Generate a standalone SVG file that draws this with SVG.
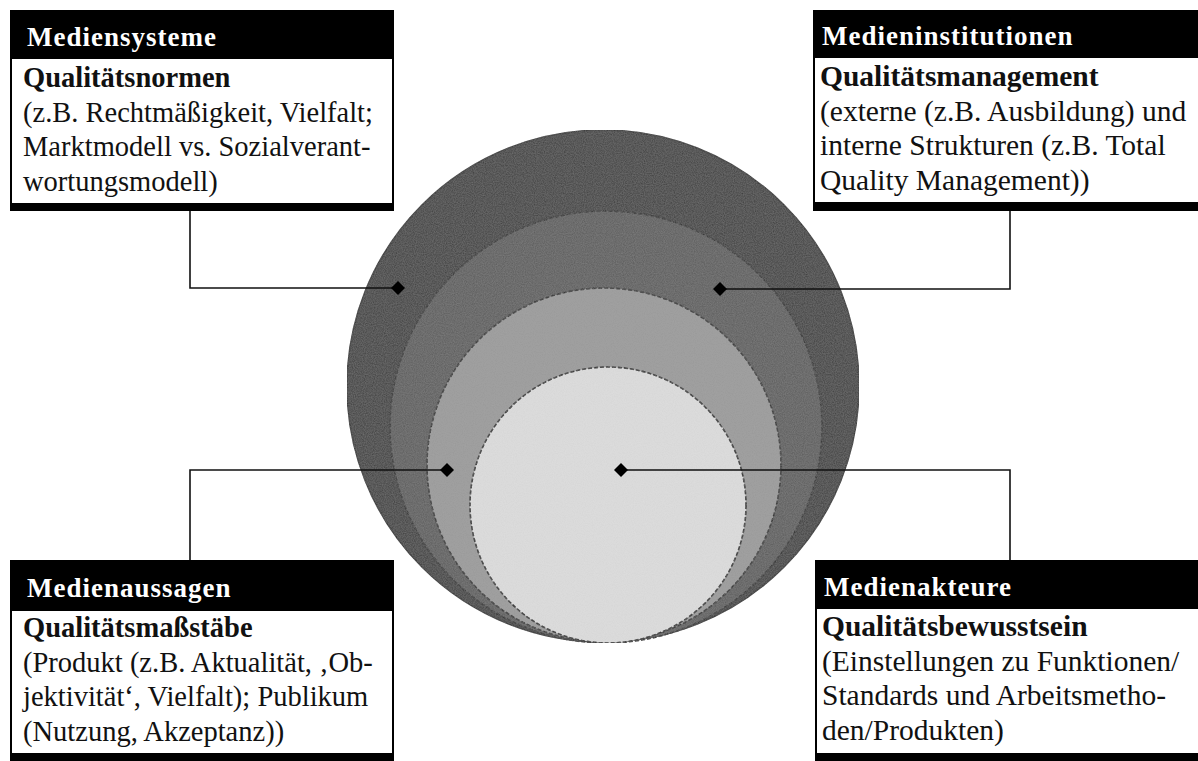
<svg xmlns="http://www.w3.org/2000/svg" width="1198" height="761" viewBox="0 0 1198 761">
<style>
.hdr{fill:#000}
.body{fill:#fff;stroke:#000;stroke-width:2}
.bar{fill:#000}
.ht{font-family:"Liberation Serif",serif;font-weight:bold;font-size:27px;letter-spacing:1px;fill:#fff}
.bt{font-family:"Liberation Serif",serif;font-weight:bold;font-size:28.5px;fill:#111}
.tx{font-family:"Liberation Serif",serif;font-size:28.5px;fill:#111}
.r .bt,.r .tx{font-size:29.5px}
.conn{fill:none;stroke:#111;stroke-width:1.6}
.dot{fill:#000}
.ring{stroke:#2a2a2a;stroke-width:1.6;stroke-dasharray:4 2}
</style>
<defs>
<filter id="grain" x="0" y="0" width="100%" height="100%">
<feTurbulence type="fractalNoise" baseFrequency="0.9" numOctaves="2" seed="3" result="n"/>
<feColorMatrix in="n" type="matrix" values="0 0 0 0 0.5  0 0 0 0 0.5  0 0 0 0 0.5  0 0 0 0.25 0" result="g"/>
<feComposite in="g" in2="SourceGraphic" operator="in" result="gc"/>
<feMerge><feMergeNode in="SourceGraphic"/><feMergeNode in="gc"/></feMerge>
</filter>
</defs>
<rect width="1198" height="761" fill="#fff"/>

<g id="circles" filter="url(#grain)">
<circle cx="603" cy="386" r="256" fill="#3c3c3c" stroke="#262626" stroke-width="1.5"/>
<circle class="ring" cx="606" cy="427" r="216" fill="#5c5c5c"/>
<circle class="ring" cx="604" cy="465" r="177" fill="#9a9a9a"/>
<circle class="ring" cx="608" cy="505" r="138" fill="#dedede"/>
</g>

<g id="connectors">
<polyline class="conn" points="190,211 190,288 398,288"/>
<polyline class="conn" points="1010,211 1010,289 720,289"/>
<polyline class="conn" points="447,470 190,470 190,560"/>
<polyline class="conn" points="621,470 1010,470 1010,560"/>
<polygon class="dot" points="398,281 405,288 398,295 391,288"/>
<polygon class="dot" points="720,282 727,289 720,296 713,289"/>
<polygon class="dot" points="447,463 454,470 447,477 440,470"/>
<polygon class="dot" points="621,463 628,470 621,477 614,470"/>
</g>

<g id="box-mediensysteme">
<rect class="body" x="11" y="58" width="382" height="146"/>
<rect class="hdr" x="10" y="10" width="384" height="48"/>
<rect class="bar" x="10" y="203" width="384" height="8"/>
<text class="ht" x="27" y="46">Mediensysteme</text>
<text class="bt" x="23" y="87">Qualitätsnormen</text>
<text class="tx" x="23" y="121.5">(z.B. Rechtmäßigkeit, Vielfalt;</text>
<text class="tx" x="23" y="156">Marktmodell vs. Sozialverant-</text>
<text class="tx" x="23" y="190.5">wortungsmodell)</text>
</g>

<g id="box-medieninstitutionen" class="r">
<rect class="body" x="814" y="57" width="400" height="146"/>
<rect class="hdr" x="813" y="10" width="400" height="47"/>
<rect class="bar" x="813" y="202" width="400" height="9"/>
<text class="ht" x="822" y="45">Medieninstitutionen</text>
<text class="bt" x="820" y="86">Qualitätsmanagement</text>
<text class="tx" x="820" y="120.5">(externe (z.B. Ausbildung) und</text>
<text class="tx" x="820" y="155">interne Strukturen (z.B. Total</text>
<text class="tx" x="820" y="189.5">Quality Management))</text>
</g>

<g id="box-medienaussagen">
<rect class="body" x="11" y="610" width="382" height="145"/>
<rect class="hdr" x="10" y="560" width="384" height="50"/>
<rect class="bar" x="10" y="753" width="384" height="8"/>
<text class="ht" x="27" y="597">Medienaussagen</text>
<text class="bt" x="23" y="637">Qualitätsmaßstäbe</text>
<text class="tx" x="23" y="671.5">(Produkt (z.B. Aktualität, ‚Ob-</text>
<text class="tx" x="23" y="706">jektivität‘, Vielfalt); Publikum</text>
<text class="tx" x="23" y="740.5">(Nutzung, Akzeptanz))</text>
</g>

<g id="box-medienakteure" class="r">
<rect class="body" x="816" y="608" width="400" height="147"/>
<rect class="hdr" x="815" y="560" width="400" height="48"/>
<rect class="bar" x="815" y="753" width="400" height="8"/>
<text class="ht" x="824" y="596">Medienakteure</text>
<text class="bt" x="822" y="636">Qualitätsbewusstsein</text>
<text class="tx" x="822" y="670.5">(Einstellungen zu Funktionen/</text>
<text class="tx" x="822" y="705">Standards und Arbeitsmetho-</text>
<text class="tx" x="822" y="739.5">den/Produkten)</text>
</g>
</svg>
